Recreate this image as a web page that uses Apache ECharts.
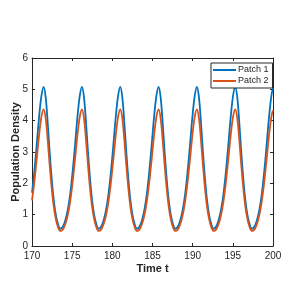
<!DOCTYPE html>
<html>
<head>
<meta charset="utf-8">
<script src="https://cdn.jsdelivr.net/npm/echarts@6/dist/echarts.min.js"></script>
<style>html,body{margin:0;padding:0;background:#fff}#c{width:293px;height:288px}</style>
</head>
<body>
<div id="c"></div>
<script>
const time = [
  170.00, 170.25, 170.55, 170.85, 171.15,
  171.45, 171.70, 171.95, 172.20, 172.45, 172.70, 172.95, 173.20, 173.53, 173.85, 174.15, 174.45, 174.75, 175.05, 175.35, 175.65, 175.95,
  176.22, 176.47, 176.72, 176.97, 177.22, 177.47, 177.72, 177.97, 178.30, 178.62, 178.92, 179.22, 179.52, 179.82, 180.12, 180.42, 180.72,
  180.99, 181.24, 181.49, 181.74, 181.99, 182.24, 182.49, 182.74, 183.07, 183.39, 183.69, 183.99, 184.29, 184.59, 184.89, 185.19, 185.49,
  185.76, 186.01, 186.26, 186.51, 186.76, 187.01, 187.26, 187.51, 187.84, 188.16, 188.46, 188.76, 189.06, 189.36, 189.66, 189.96, 190.26,
  190.53, 190.78, 191.03, 191.28, 191.53, 191.78, 192.03, 192.28, 192.61, 192.93, 193.23, 193.53, 193.83, 194.13, 194.43, 194.73, 195.03,
  195.30, 195.55, 195.80, 196.05, 196.30, 196.55, 196.80, 197.05, 197.38, 197.70, 198.00, 198.30, 198.60, 198.90, 199.20, 199.50, 199.80,
  200.00
];
const patch1 = [
  1.70, 2.27, 3.12, 4.02, 4.75,
  5.08, 4.75, 3.95, 3.00, 2.15, 1.48, 1.02, 0.73, 0.55, 0.62, 0.82, 1.15, 1.65, 2.35, 3.20, 4.10, 4.80,
  5.08, 4.75, 3.95, 3.00, 2.15, 1.48, 1.02, 0.73, 0.55, 0.62, 0.82, 1.15, 1.65, 2.35, 3.20, 4.10, 4.80,
  5.08, 4.75, 3.95, 3.00, 2.15, 1.48, 1.02, 0.73, 0.55, 0.62, 0.82, 1.15, 1.65, 2.35, 3.20, 4.10, 4.80,
  5.08, 4.75, 3.95, 3.00, 2.15, 1.48, 1.02, 0.73, 0.55, 0.62, 0.82, 1.15, 1.65, 2.35, 3.20, 4.10, 4.80,
  5.08, 4.75, 3.95, 3.00, 2.15, 1.48, 1.02, 0.73, 0.55, 0.62, 0.82, 1.15, 1.65, 2.35, 3.20, 4.10, 4.80,
  5.08, 4.75, 3.95, 3.00, 2.15, 1.48, 1.02, 0.73, 0.55, 0.62, 0.82, 1.15, 1.65, 2.35, 3.20, 4.10, 4.80,
  5.05
];
const patch2 = [
  1.46, 1.95, 2.68, 3.46, 4.09,
  4.36, 4.08, 3.40, 2.58, 1.85, 1.27, 0.88, 0.63, 0.48, 0.53, 0.70, 0.99, 1.42, 2.02, 2.75, 3.52, 4.13,
  4.36, 4.08, 3.40, 2.58, 1.85, 1.27, 0.88, 0.63, 0.48, 0.53, 0.70, 0.99, 1.42, 2.02, 2.75, 3.52, 4.13,
  4.36, 4.08, 3.40, 2.58, 1.85, 1.27, 0.88, 0.63, 0.48, 0.53, 0.70, 0.99, 1.42, 2.02, 2.75, 3.52, 4.13,
  4.36, 4.08, 3.40, 2.58, 1.85, 1.27, 0.88, 0.63, 0.48, 0.53, 0.70, 0.99, 1.42, 2.02, 2.75, 3.52, 4.13,
  4.36, 4.08, 3.40, 2.58, 1.85, 1.27, 0.88, 0.63, 0.48, 0.53, 0.70, 0.99, 1.42, 2.02, 2.75, 3.52, 4.13,
  4.36, 4.08, 3.40, 2.58, 1.85, 1.27, 0.88, 0.63, 0.48, 0.53, 0.70, 0.99, 1.42, 2.02, 2.75, 3.52, 4.13,
  4.33
];
const seriesNames = ['Patch 1', 'Patch 2'];
const xLabel = 'Time t';
const yLabel = 'Population Density';

const axisColor = '#262626';
const font = 'Liberation Sans, Arial, Helvetica, sans-serif';

const chart = echarts.init(document.getElementById('c'), null, {renderer: 'canvas'});
const baseX = {
  type: 'value', min: 170, max: 200, interval: 5,
  axisLine: {show: true, onZero: false, lineStyle: {color: axisColor, width: 1}},
  axisTick: {show: true, inside: true, length: 3, lineStyle: {color: axisColor, width: 1}},
  splitLine: {show: false}
};
const baseY = {
  type: 'value', min: 0, max: 6, interval: 1,
  axisLine: {show: true, onZero: false, lineStyle: {color: axisColor, width: 1}},
  axisTick: {show: true, inside: true, length: 3, lineStyle: {color: axisColor, width: 1}},
  splitLine: {show: false}
};
chart.setOption({
  animation: false,
  backgroundColor: '#fff',
  grid: {left: 32, right: 20, top: 58, bottom: 42, containLabel: false, outerBoundsMode: 'none'},
  xAxis: [
    Object.assign({}, baseX, {
      position: 'bottom',
      name: xLabel, nameLocation: 'middle', nameGap: 17, nameMoveOverlap: false,
      nameTextStyle: {fontFamily: font, fontSize: 11, fontWeight: 'bold', color: axisColor},
      axisLabel: {fontFamily: font, fontSize: 10, color: axisColor, margin: 5}
    }),
    Object.assign({}, baseX, {position: 'top', axisLabel: {show: false}})
  ],
  yAxis: [
    Object.assign({}, baseY, {
      position: 'left',
      name: yLabel, nameLocation: 'middle', nameGap: 11, nameMoveOverlap: false,
      nameTextStyle: {fontFamily: font, fontSize: 11, fontWeight: 'bold', color: axisColor},
      axisLabel: {fontFamily: font, fontSize: 10, color: axisColor, margin: 4}
    }),
    Object.assign({}, baseY, {position: 'right', axisLabel: {show: false}})
  ],
  legend: {
    data: seriesNames,
    orient: 'vertical',
    left: 211, top: 63,
    icon: 'rect', itemWidth: 23, itemHeight: 2, itemGap: 1,
    padding: [2, 4, 2, 2],
    backgroundColor: '#fff',
    borderColor: axisColor, borderWidth: 1,
    textStyle: {fontFamily: font, fontSize: 9, color: axisColor, padding: [0,0,0,-3], lineHeight: 10}
  },
  series: [
    {
      name: seriesNames[0], type: 'line', xAxisIndex: 0, yAxisIndex: 0,
      data: time.map((t, i) => [t, patch1[i]]),
      smooth: 0.35, symbol: 'none', lineStyle: {color: '#0072BD', width: 1.8}, itemStyle: {color: '#0072BD'}
    },
    {
      name: seriesNames[1], type: 'line', xAxisIndex: 0, yAxisIndex: 0,
      data: time.map((t, i) => [t, patch2[i]]),
      smooth: 0.35, symbol: 'none', lineStyle: {color: '#D95319', width: 1.8}, itemStyle: {color: '#D95319'}
    }
  ]
});
</script>
</body>
</html>
